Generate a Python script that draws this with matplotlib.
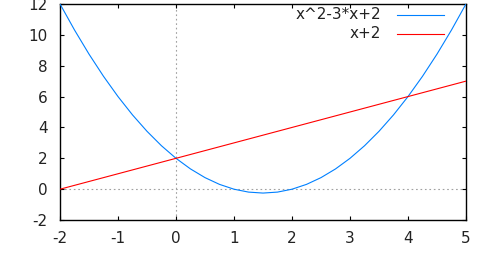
import numpy as np
import matplotlib.pyplot as plt

plt.rcParams['font.family'] = ['DejaVu Sans']
plt.rcParams['axes.unicode_minus'] = False

# valeurs
x_par = [-2, -1.75, -1.5, -1.25, -1, -0.75, -0.5, -0.25, 0, 0.25, 0.5, 0.75, 1,
         1.25, 1.5, 1.75, 2, 2.25, 2.5, 2.75, 3, 3.25, 3.5, 3.75, 4, 4.25, 4.5, 4.75, 5]
y_par = [12, 10.3125, 8.75, 7.3125, 6, 4.8125, 3.75, 2.8125, 2, 1.3125, 0.75, 0.3125, 0,
         -0.1875, -0.25, -0.1875, 0, 0.3125, 0.75, 1.3125, 2, 2.8125, 3.75, 4.8125, 6,
         7.3125, 8.75, 10.3125, 12]
x_lin = [-2, 5]
y_lin = [0, 7]

labels = ["x^2-3*x+2", "x+2"]
colors = ["#0080ff", "#ff0000"]
xticks = [-2, -1, 0, 1, 2, 3, 4, 5]
yticks = [-2, 0, 2, 4, 6, 8, 10, 12]

fig = plt.figure(figsize=(5, 2.62), dpi=100)
ax = fig.add_axes([0.12, 0.16, 0.812, 0.825])

# axes zéro en pointillés
ax.axhline(0, color="#a0a0a0", lw=0.8, ls=(0, (1.5, 2.5)), zorder=1)
ax.axvline(0, color="#a0a0a0", lw=0.8, ls=(0, (1.5, 2.5)), zorder=1)

ax.plot(x_par, y_par, color=colors[0], lw=0.8, zorder=3)
ax.plot(x_lin, y_lin, color=colors[1], lw=0.8, zorder=3)

ax.set_xlim(-2, 5)
ax.set_ylim(-2, 12)
ax.set_xticks(xticks)
ax.set_yticks(yticks)
ax.tick_params(direction="in", length=3, width=0.8, top=True, right=True,
               labelsize=11, colors="black", labelcolor="#222222")
ax.tick_params(axis="y", pad=9)
ax.tick_params(axis="x", pad=8)
for s in ax.spines.values():
    s.set_linewidth(1.0)

# légende façon gnuplot
rows = [0.949, 0.861]
for lab, col, yy in zip(labels, colors, rows):
    ax.text(0.791, yy, lab, transform=ax.transAxes, ha="right", va="center",
            fontsize=11, color="#222222")
    ax.plot([0.829, 0.946], [yy, yy], transform=ax.transAxes, color=col, lw=0.8)

fig.savefig("out.png", dpi=100)
